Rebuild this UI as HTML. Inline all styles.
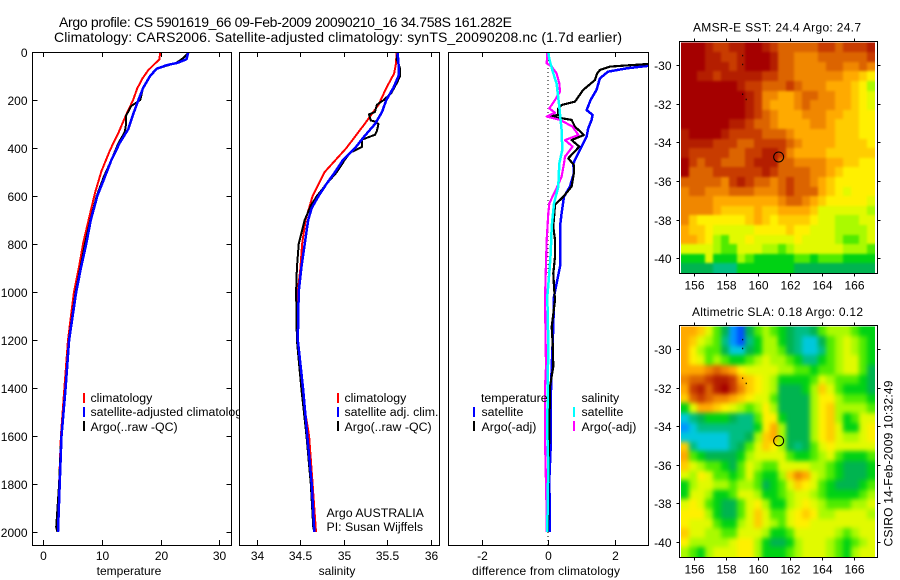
<!DOCTYPE html>
<html>
<head>
<meta charset="utf-8">
<title>Argo profile</title>
<style>
html,body{margin:0;padding:0;background:#fff}
svg{display:block;font-family:"Liberation Sans",sans-serif;font-size:12px;fill:#000}
.legend{font-size:12.35px}
</style>
</head>
<body>
<svg id="fig" width="900" height="580" viewBox="0 0 900 580" xmlns="http://www.w3.org/2000/svg">
<defs>
<clipPath id="clipT"><rect x="32" y="52" width="199.5" height="493"/></clipPath>
<clipPath id="clipS"><rect x="239.5" y="52" width="200" height="493"/></clipPath>
<clipPath id="clipD"><rect x="448.5" y="52" width="200" height="493"/></clipPath>
<clipPath id="clipMapA"><rect x="681" y="42.5" width="194" height="230.5"/></clipPath>
<clipPath id="clipMapB"><rect x="681" y="326.5" width="194" height="230.5"/></clipPath>
<filter id="blurA" filterUnits="userSpaceOnUse" x="660" y="20" width="240" height="270" color-interpolation-filters="sRGB"><feGaussianBlur stdDeviation="1.4"/></filter>
<filter id="blurB" filterUnits="userSpaceOnUse" x="660" y="305" width="240" height="270" color-interpolation-filters="sRGB"><feGaussianBlur stdDeviation="2.4"/></filter>
</defs>
<text x="59" y="27" font-size="14" textLength="453">Argo profile: CS 5901619_66 09-Feb-2009 20090210_16 34.758S 161.282E</text>
<text x="54" y="42" font-size="14" textLength="568">Climatology: CARS2006. Satellite-adjusted climatology: synTS_20090208.nc (1.7d earlier)</text>

<g id="panelT"></g>
<g class="legend">
<rect x="83" y="393" width="2" height="10" fill="#f00"/>
<text x="90.5" y="402">climatology</text>
<rect x="83" y="407" width="2" height="10" fill="#00f"/>
<text x="90.5" y="416">satellite-adjusted climatology</text>
<rect x="83" y="421" width="2" height="10" fill="#000"/>
<text x="90.5" y="431">Argo(..raw -QC)</text>
</g>

<rect x="239" y="46" width="203" height="505" fill="#fff"/>
<g id="panelS"></g>
<g class="legend">
<rect x="337" y="393" width="2" height="10" fill="#f00"/>
<text x="344.5" y="402">climatology</text>
<rect x="337" y="407" width="2" height="10" fill="#00f"/>
<text x="344.5" y="416">satellite adj. clim.</text>
<rect x="337" y="421" width="2" height="10" fill="#000"/>
<text x="344.5" y="431">Argo(..raw -QC)</text>
<text x="326.5" y="517">Argo AUSTRALIA</text>
<text x="326.5" y="531">PI: Susan Wijffels</text>
</g>

<g id="panelD"></g>
<g class="legend">
<text x="481" y="402">temperature</text>
<rect x="473" y="407" width="2" height="10" fill="#00f"/>
<text x="481.5" y="416">satellite</text>
<rect x="473" y="421" width="2" height="10" fill="#000"/>
<text x="481.5" y="431">Argo(-adj)</text>
<text x="581.5" y="402">salinity</text>
<rect x="573" y="407" width="2" height="10" fill="#0ff"/>
<text x="581.5" y="416">satellite</text>
<rect x="573" y="421" width="2" height="10" fill="#f0f"/>
<text x="581.5" y="431">Argo(-adj)</text>
</g>

<g id="mapA"></g>
<g id="mapB"></g>
<text x="693" y="31.5" textLength="168">AMSR-E SST: 24.4  Argo: 24.7</text>
<text x="692" y="316" textLength="171">Altimetric SLA: 0.18  Argo: 0.12</text>
<text transform="translate(892.5,546.5) rotate(-90)" textLength="166">CSIRO 14-Feb-2009 10:32:49</text>
</svg>

<script>
/* ---------- profile data (depth in dbar) ---------- */
const depthTick = [0,200,400,600,800,1000,1200,1400,1600,1800,2000];
const tempTick = [0,10,20,30];
const salTick = [34,34.5,35,35.5,36];
const diffTick = [-2,0,2];

const climTempDepth = [0,30,75,110,152,200,262,337,407,497,587,670,796,893,1004,1200,1400,1600,1800,2000];
const climTemp = [19.9,19.8,17.9,16.9,16,15.3,14.1,12.8,11.4,9.9,8.8,8,6.8,6.1,5.2,4.2,3.6,3,2.7,2.45];
const satTempDepth = [0,30,45,55,70,100,150,200,260,320,380,450,520,600,700,800,900,1000,1200,1400,1600,1800,2000];
const satTemp = [24.7,24.4,22.9,21,19.3,18.2,17,16.2,15.3,14.5,13,11.6,10.5,9.2,8.1,7.3,6.4,5.6,4.4,3.8,3.1,2.8,2.5];
const argoTempDepth = [0,25,45,55,70,100,150,200,225,265,300,330,350,380,450,520,600,700,800,900,1000,1200,1400,1600,1800,1980,2000];
const argoTemp = [24.8,23.85,22.7,21.3,19.3,18.2,17,16.5,15,14.1,14.1,13.9,13.5,12.8,11.6,10.3,9.1,8,7.1,6.3,5.5,4.35,3.75,3.05,2.7,2.2,2.4];

const climSalDepth = [0,50,90,150,220,300,400,500,550,600,700,800,900,1000,1200,1400,1600,1800,2000];
const climSal = [35.61,35.6,35.58,35.49,35.4,35.24,35.03,34.78,34.71,34.64,34.56,34.52,34.5,34.47,34.46,34.51,34.6,34.64,34.68];
const satSalDepth = [0,50,100,150,200,250,300,350,400,450,500,550,600,650,700,800,900,1000,1200,1400,1600,1800,2000];
const satSal = [35.62,35.63,35.63,35.57,35.49,35.44,35.36,35.24,35.13,34.99,34.9,34.8,34.71,34.63,34.59,34.55,34.51,34.48,34.47,34.53,34.58,34.63,34.66];
const argoSalDepth = [0,30,70,100,130,170,200,220,250,260,285,290,300,330,345,365,395,420,450,500,550,600,640,700,800,900,1000,1200,1400,1600,1800,1990];
const argoSal = [35.62,35.61,35.65,35.65,35.61,35.55,35.46,35.38,35.36,35.29,35.31,35.36,35.4,35.38,35.36,35.21,35.21,35.07,35.01,34.92,34.8,34.69,34.62,34.55,34.48,34.46,34.45,34.46,34.51,34.57,34.62,34.65];

const diffSatTempDepth = [0,30,50,58,68,82,110,158,200,242,262,283,318,353,394,464,505,561,603,672,728,894,1019,1146,1311,1450,1644,1783,1965,2000];
const diffSatTemp = [4.8,4.6,3.6,3,2.37,1.8,1.56,1.46,1.28,1.16,1.34,1.31,1.21,1.16,1.01,.76,.78,.66,.48,.41,.36,.36,.18,.16,.11,.08,.08,.04,.06,.06];
const diffArgoTempDepth = [0,30,50,61,75,89,117,158,207,221,235,262,268,283,311,346,367,394,443,471,505,561,603,637,728,783,853,922,978,1033,1146,1216,1311,1394,1588,2000];
const diffArgoTemp = [4.9,4.1,3,1.86,1.56,1.48,1.41,1.06,.81,.41,.31,.31,.06,.71,.81,1.08,.71,.94,.61,.78,.78,.71,.46,.21,.16,.21,.21,.16,.18,.21,.11,.14,.16,.06,.04,0];
const diffSatSalDepth = [0,30,89,131,228,325,408,464,561,631,728,839,922,1019,1216,1394,1588,1727,1866,2000];
const diffSatSal = [.01,.04,.16,.26,.34,.41,.43,.34,.31,.18,.11,.08,.04,-.02,.01,-.01,-.02,.01,-.01,-.02];
const diffArgoSalDepth = [5,47,61,89,131,165,200,235,253,269,283,311,346,367,394,436,464,519,561,631,672,783,922,1033,1311,1400,1610,1800,1930,2000];
const diffArgoSal = [-.02,-.04,.11,.26,.34,.36,.21,.04,.21,-.04,.36,.74,.91,.51,.74,.51,.48,.41,.28,.04,.01,-.04,-.07,-.09,-.06,-.09,-.09,-.06,-.04,-.04];

/* ---------- map data (colour level per 0.5 degree cell) ---------- */
const sstLevels = [
[16,16,16,15,14,14,15,15,16,16,15,14,13,13,13,13,13,14,14,13,14,14,14,15],
[16,16,16,15,15,14,14,15,16,16,16,15,13,13,12,12,12,13,13,13,13,13,13,14],
[16,16,16,15,15,15,14,15,16,16,16,15,13,13,12,12,12,12,13,13,12,12,13,12],
[16,16,15,15,14,15,15,15,15,15,14,14,13,13,12,12,12,12,12,12,11,11,10,9],
[16,16,16,16,16,16,16,15,14,14,13,13,13,14,13,12,12,12,11,11,11,10,9,7],
[16,16,16,16,16,16,16,16,15,14,12,12,11,11,12,13,13,12,12,11,11,10,9,8],
[16,16,16,16,16,16,16,16,15,14,12,11,11,11,12,13,12,12,12,11,11,10,9,8],
[16,16,16,16,16,16,16,16,15,14,13,12,11,11,11,12,12,12,11,11,10,10,9,9],
[16,16,16,16,16,16,15,15,14,13,13,12,11,11,11,11,12,12,11,10,10,10,9,9],
[15,16,16,16,16,15,14,14,14,14,13,13,13,12,11,11,11,11,11,10,10,10,9,9],
[15,15,15,15,14,14,14,13,13,14,14,14,14,13,12,11,11,11,11,10,10,10,10,9],
[15,14,14,14,14,14,13,13,14,14,15,15,14,12,11,11,11,11,10,10,10,10,10,10],
[16,14,13,14,14,13,13,13,14,15,15,15,13,13,12,12,12,12,11,11,10,10,9,9],
[16,13,13,13,14,14,14,14,14,14,15,14,13,13,13,13,12,12,11,10,9,9,9,9],
[13,13,13,13,13,12,14,15,14,13,13,12,13,14,13,13,12,11,10,9,9,9,9,9],
[12,13,13,12,12,12,13,13,13,12,12,12,13,14,13,13,13,11,10,9,8,9,9,9],
[12,12,12,12,11,11,11,11,11,11,11,11,12,13,13,12,11,10,9,9,9,9,9,8],
[12,12,12,12,11,10,10,10,10,11,10,10,11,11,11,11,10,8,8,8,8,8,8,7],
[12,10,9,9,9,9,9,9,10,11,10,9,10,10,10,10,9,8,8,7,7,7,8,8],
[11,10,10,9,8,8,8,8,8,9,9,9,9,10,9,9,8,8,8,7,7,7,7,8],
[11,11,10,9,7,6,8,8,9,8,8,8,8,8,9,8,8,8,8,7,6,6,7,8],
[8,8,8,8,7,6,6,8,8,8,7,7,6,7,8,8,8,8,8,8,7,7,7,6],
[5,5,5,8,5,5,5,7,6,5,5,5,5,5,6,6,5,6,6,6,5,5,5,5],
[4,4,4,4,3,3,3,5,5,5,5,5,5,5,4,4,4,4,4,4,4,4,4,4]
];
const slaLevels = [
[11,11,10,8,6,4,1,0,4,6,7,6,5,4,3,3,4,6,7,7,7,6,5,5],
[11,10,8,7,6,3,1,0,3,5,7,7,5,4,3,2,2,4,6,7,8,7,6,5],
[11,9,7,6,6,4,2,2,4,5,7,7,6,4,3,2,2,3,6,7,8,7,6,5],
[11,9,8,6,7,6,5,5,6,7,8,7,7,6,5,3,3,5,6,7,8,8,6,5],
[11,11,11,12,13,12,11,9,8,8,8,8,7,7,6,6,5,6,6,7,8,8,6,4],
[12,13,13,14,15,15,14,11,10,9,8,7,5,5,5,5,6,8,7,6,6,6,5,4],
[11,14,15,13,15,16,14,12,10,9,8,7,4,4,4,5,7,10,8,6,5,5,5,4],
[10,13,14,13,12,12,11,10,9,8,8,6,4,4,4,4,7,9,9,7,6,6,6,5],
[5,8,11,11,10,9,8,7,6,7,9,7,4,4,4,4,7,9,10,7,7,7,7,6],
[2,3,4,5,5,5,4,3,3,6,9,9,5,4,4,4,7,9,10,7,5,6,8,8],
[1,2,3,3,3,3,3,3,3,5,9,11,7,4,4,4,7,9,10,8,5,5,8,9],
[2,2,2,2,2,2,3,3,4,7,10,11,7,4,4,4,7,9,10,8,7,7,8,9],
[10,3,2,2,2,2,3,4,6,8,10,9,7,4,3,4,6,8,9,8,8,8,8,8],
[11,6,5,4,4,4,4,5,7,8,8,8,8,6,5,5,6,7,8,6,5,5,5,6],
[10,8,7,6,6,5,4,6,8,7,6,6,8,8,8,8,7,7,6,5,4,4,4,5],
[8,7,9,8,6,6,5,6,8,6,5,5,7,10,12,11,8,7,6,5,4,4,4,5],
[5,7,8,8,7,7,6,7,7,6,4,5,6,8,10,9,8,6,5,4,4,4,5,6],
[5,8,8,7,5,5,6,8,8,7,5,5,6,7,8,8,7,6,5,5,5,5,6,7],
[8,9,8,6,5,4,4,6,8,9,7,5,5,7,8,9,8,7,6,6,6,7,7,8],
[9,9,9,7,5,4,4,6,8,10,8,6,6,8,9,10,9,7,7,8,8,8,8,7],
[9,8,8,8,6,5,5,7,8,10,8,7,6,8,9,9,8,8,8,8,8,8,8,8],
[10,8,8,7,7,6,6,8,8,8,7,5,5,6,8,8,8,8,8,7,6,7,8,8],
[9,7,7,7,7,7,8,9,9,7,5,4,4,5,7,8,8,8,7,6,5,6,7,8],
[7,6,5,7,8,8,8,9,9,7,5,5,5,6,7,8,8,8,7,6,5,7,8,8]
];
const lonTick = [156,158,160,162,164,166];
const latTick = [30,32,34,36,38,40];
const floatLon = [159.03,159.03,159.03,159.25];
const floatLat = [29.5,29.96,31.5,31.77];
const profileLon = [161.282];
const profileLat = [34.758];

const levelColour = ["#0050ff","#0096ff","#00c8dc","#00be82","#00b450","#00d214","#50eb00","#aafa00","#e1fa00","#fff000","#ffcd00","#ffaa00","#f08700","#dc6400","#c83c00","#b41e00","#a50000"];

const NS = "http://www.w3.org/2000/svg";

function node(parent, tag, attrs, text){
  const el = document.createElementNS(NS, tag);
  for (const k in attrs) el.setAttribute(k, attrs[k]);
  if (text !== undefined) el.textContent = text;
  parent.appendChild(el);
  return el;
}

/* ---------- axis scales ---------- */
const yDepth = d => 52 + 0.24 * d;
const xTemp = v => 43.3 + 5.87 * v;
const xSal = v => 257 + 86.8 * (v - 34);
const xDiff = v => 548 + 33.25 * v;

const frameStyle = {fill:"none", stroke:"#000", "stroke-width":1, "shape-rendering":"crispEdges"};

function frame(g, x0, y0, x1, y1){
  const f = node(g, "rect", Object.assign({x:x0, y:y0, width:x1-x0, height:y1-y0}, frameStyle));
  
  
}

function tick(g, x1, y1, x2, y2){
  const t = node(g, "line", {x1:x1, y1:y1, x2:x2, y2:y2, stroke:"#000", "stroke-width":1, "shape-rendering":"crispEdges"});
  
  
}

function label(g, x, y, anchor, str, name, extra){
  const t = node(g, "text", Object.assign({x:x, y:y, "text-anchor":anchor}, extra || {}), str);
  
  
}

function series(g, clip, xs, depths, xScale, colour, width, name){
  const pts = xs.map((v, i) => xScale(v).toFixed(1) + "," + yDepth(depths[i]).toFixed(1)).join(" ");
  const p = node(g, "polyline", {points:pts, fill:"none", stroke:colour, "stroke-width":width, "clip-path":"url(#" + clip + ")", "stroke-linejoin":"round", "shape-rendering":"crispEdges"});
  
  
}

function profilePanel(id, xScale, ticks, xTitle, titleX, titleLen){
  const g = document.getElementById(id);
  const top = 52, bot = 545;
  ticks.forEach(v => {
    const x = Math.round(xScale(v)) + 0.5;
    tick(g, x, top, x, top + 5);
    tick(g, x, bot, x, bot - 5);
    label(g, x, 560, "middle", String(v), "x-tick-label");
  });
  label(g, titleX, 575, "middle", xTitle, "x-axis-title", titleLen ? {textLength:titleLen} : null);
  return g;
}

/* temperature panel */
{
  const g = profilePanel("panelT", xTemp, tempTick, "temperature", 129);
  depthTick.forEach(d => {
    const y = Math.round(yDepth(d)) + 0.5;
    tick(g, 32.5, y, 37.5, y);
    tick(g, 231.5, y, 226.5, y);
    label(g, 27.5, y + 4.5, "end", String(d), "y-tick-label");
  });
  series(g, "clipT", climTemp, climTempDepth, xTemp, "#f00", 2, "climatology-temperature-line");
  series(g, "clipT", argoTemp, argoTempDepth, xTemp, "#000", 2, "argo-temperature-line");
  series(g, "clipT", satTemp, satTempDepth, xTemp, "#00f", 2.5, "satellite-temperature-line");
  frame(g, 32.5, 52.5, 231.5, 545.5);
}

/* salinity panel */
{
  const g = profilePanel("panelS", xSal, salTick, "salinity", 337);
  series(g, "clipS", climSal, climSalDepth, xSal, "#f00", 2, "climatology-salinity-line");
  series(g, "clipS", argoSal, argoSalDepth, xSal, "#000", 2, "argo-salinity-line");
  series(g, "clipS", satSal, satSalDepth, xSal, "#00f", 2.5, "satellite-salinity-line");
  frame(g, 239.5, 52.5, 439.5, 545.5);
}

/* difference panel */
{
  const g = profilePanel("panelD", xDiff, diffTick, "difference from climatology", 546, 148);
  const z = node(g, "line", {x1:xDiff(0), y1:52, x2:xDiff(0), y2:545, stroke:"#000", "stroke-width":1, "stroke-dasharray":"1 3"});
  
  
  series(g, "clipD", diffSatTemp, diffSatTempDepth, xDiff, "#00f", 2.5, "satellite-temperature-diff-line");
  series(g, "clipD", diffArgoTemp, diffArgoTempDepth, xDiff, "#000", 2.2, "argo-temperature-diff-line");
  series(g, "clipD", diffArgoSal, diffArgoSalDepth, xDiff, "#f0f", 2.2, "argo-salinity-diff-line");
  series(g, "clipD", diffSatSal, diffSatSalDepth, xDiff, "#0ff", 2.5, "satellite-salinity-diff-line");
  frame(g, 448.5, 52.5, 648.5, 545.5);
}

/* maps */
function drawMap(id, levels, top, bottom, lat30, pxPerLat, xLabelY, cellName, clipId, filterId){
  const g = document.getElementById(id);
  const xLon = lon => 694.3 + (lon - 156) * 15.97;
  const yLat = lat => lat30 + (lat - 30) * pxPerLat;
  const left = 679.5, right = 877.5;
  const imgLeft = 680.7, imgRight = 875;
  const cols = levels[0].length, rows = levels.length;
  const cw = (imgRight - imgLeft) / cols;
  const ch = (bottom - 0.5 - (top + 1)) / rows;
  const outer = node(g, "g", {"clip-path":"url(#" + clipId + ")"});
  
  
  const cellsGroup = node(outer, "g", {filter:"url(#" + filterId + ")"});
  
  
  levels.forEach((row, j) => {
    row.forEach((v, i) => {
      let x0 = Math.round(imgLeft + i * cw);
      let x1 = Math.round(imgLeft + (i + 1) * cw);
      let y0 = Math.round(top + 1 + j * ch);
      let y1 = Math.round(top + 1 + (j + 1) * ch);
      if (i === 0) x0 -= 12;
      if (i === cols - 1) x1 += 12;
      if (j === 0) y0 -= 12;
      if (j === rows - 1) y1 += 12;
      const c = document.createElementNS(NS, "rect");
      c.setAttribute("x", x0);
      c.setAttribute("y", y0);
      c.setAttribute("width", x1 - x0);
      c.setAttribute("height", y1 - y0);
      c.setAttribute("fill", levelColour[Math.max(0, Math.min(levelColour.length - 1, Math.round(v)))]);
      
      
      cellsGroup.appendChild(c);
    });
  });
  frame(g, left, top, right, bottom);
  lonTick.forEach(lon => {
    const x = Math.round(xLon(lon)) + 0.5;
    tick(g, x, top, x, top - 3);
    tick(g, x, bottom, x, bottom + 3);
    label(g, x, xLabelY, "middle", String(lon), "map-x-tick-label");
  });
  latTick.forEach(lat => {
    const y = Math.round(yLat(lat)) + 0.5;
    tick(g, left, y, left - 3, y);
    tick(g, right, y, right + 3, y);
    label(g, 671.5, y + 4.5, "end", "-" + lat, "map-y-tick-label");
  });
  floatLon.forEach((lon, i) => {
    const d = node(g, "rect", {x:xLon(lon) - 0.5, y:yLat(floatLat[i]) - 0.5, width:1, height:1.5, fill:"#000"});
    
    
  });
  profileLon.forEach((lon, i) => {
    const m = node(g, "circle", {cx:xLon(lon), cy:yLat(profileLat[i]), r:5, fill:"none", stroke:"#000", "stroke-width":1});
    
    
  });
}

drawMap("mapA", sstLevels, 41.5, 273.5, 65, 19.33, 289.5, "sst-cell", "clipMapA", "blurA");
drawMap("mapB", slaLevels, 325.5, 557.5, 349, 19.3, 573.5, "sla-cell", "clipMapB", "blurB");
</script>
</body>
</html>
